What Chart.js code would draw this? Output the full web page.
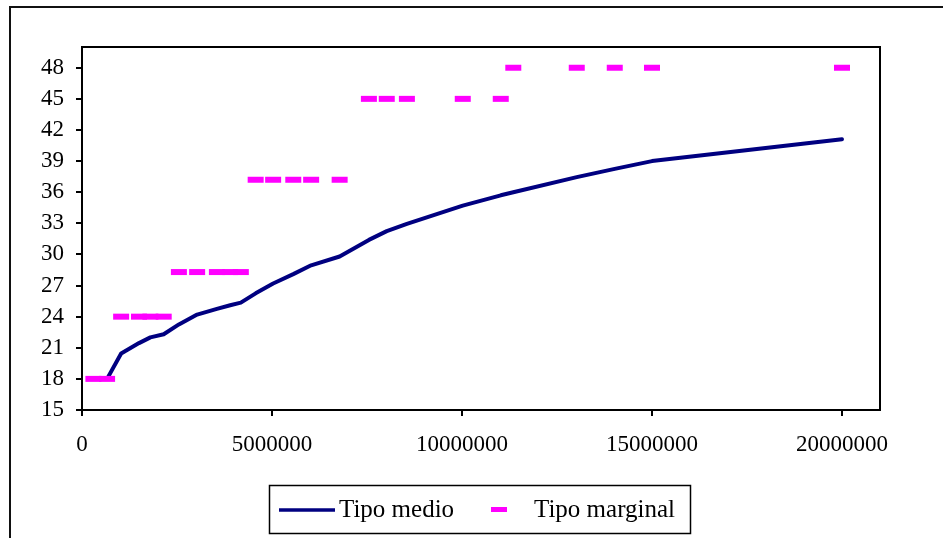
<!DOCTYPE html>
<html>
<head>
<meta charset="utf-8">
<script src="https://cdn.jsdelivr.net/npm/chart.js@4/dist/chart.umd.min.js"></script>
<style>
html,body{margin:0;padding:0;background:#fff;}
#wrap{width:943px;height:538px;position:relative;}
</style>
</head>
<body>
<div id="wrap"><canvas id="c" width="943" height="538"></canvas></div>
<script>
// Data
const renta = [300000, 660000, 1030000, 1500000, 1800000, 2150000, 2550000, 3030000, 3550000, 3900000, 4180000,
  4570000, 5030000, 5560000, 6030000, 6780000, 7550000, 8020000, 8550000, 10020000, 11020000,
  11350000, 13020000, 14020000, 15000000, 20000000];
const tipoMedio = [18, 18, 20.45, 21.45, 22.0, 22.3, 23.25, 24.2, 24.75, 25.1, 25.35,
  26.25, 27.2, 28.1, 28.95, 29.8, 31.4, 32.25, 32.95, 34.7, 35.7,
  36.0, 37.45, 38.25, 39.0, 41.1];
const tipoMarginal = [18, 18, 24, 24, 24, 24, 28.3, 28.3, 28.3, 28.3, 28.3,
  37.2, 37.2, 37.2, 37.2, 37.2, 45, 45, 45, 45, 45,
  48, 48, 48, 48, 48];
const xTickValues = [0, 5000000, 10000000, 15000000, 20000000];
const yTickValues = [15, 18, 21, 24, 27, 30, 33, 36, 39, 42, 45, 48];
const seriesNames = ['Tipo medio', 'Tipo marginal'];

const FONT = "'Liberation Serif', 'Times New Roman', serif";

const framePlugin = {
  id: 'frames',
  beforeDraw(chart) {
    const ctx = chart.ctx;
    ctx.save();
    ctx.fillStyle = '#fff';
    ctx.fillRect(0, 0, chart.width, chart.height);
    // outer chart border (runs off the right/bottom edges)
    ctx.strokeStyle = '#111';
    ctx.lineWidth = 2;
    ctx.beginPath();
    ctx.moveTo(10, chart.height + 2);
    ctx.lineTo(10, 7);
    ctx.lineTo(chart.width + 2, 7);
    ctx.stroke();
    ctx.restore();
  },
  afterDraw(chart) {
    const ctx = chart.ctx;
    const a = chart.chartArea;
    ctx.save();
    ctx.strokeStyle = '#000';
    ctx.lineWidth = 2;
    ctx.strokeRect(a.left, a.top, a.right - a.left, a.bottom - a.top);
    // legend
    const ds = chart.data.datasets;
    const med = ds.find(d => d.label === seriesNames[0]);
    const mar = ds.find(d => d.label === seriesNames[1]);
    ctx.lineWidth = 1.5;
    ctx.strokeStyle = '#000';
    ctx.strokeRect(269.5, 485.5, 421, 48);
    ctx.strokeStyle = med.borderColor;
    ctx.lineWidth = 3.5;
    ctx.beginPath();
    ctx.moveTo(279, 510);
    ctx.lineTo(335, 510);
    ctx.stroke();
    ctx.fillStyle = mar.pointBorderColor;
    ctx.fillRect(491, 507, 16, 5);
    ctx.fillStyle = '#000';
    ctx.font = "25px " + FONT;
    ctx.textBaseline = 'alphabetic';
    ctx.textAlign = 'left';
    ctx.fillText(med.label, 339, 517);
    ctx.fillText(mar.label, 534, 517);
    ctx.restore();
  }
};

const pts = (ys) => renta.map((x, i) => ({x: x, y: ys[i]}));

new Chart(document.getElementById('c'), {
  type: 'scatter',
  data: {
    datasets: [
      {
        label: seriesNames[0],
        data: pts(tipoMedio),
        showLine: true,
        borderColor: '#000080',
        borderWidth: 4,
        pointRadius: 0,
        borderJoinStyle: 'round',
        borderCapStyle: 'round',
        order: 1
      },
      {
        label: seriesNames[1],
        data: pts(tipoMarginal),
        showLine: false,
        pointStyle: 'line',
        pointRadius: 8,
        pointBorderWidth: 6,
        pointBorderColor: '#FF00FF',
        pointBackgroundColor: '#FF00FF',
        borderColor: '#FF00FF',
        order: 0
      }
    ]
  },
  options: {
    responsive: false,
    animation: false,
    events: [],
    layout: {padding: {left: 0, top: 47, right: 63, bottom: 0}},
    plugins: {legend: {display: false}, tooltip: {enabled: false}},
    scales: {
      x: {
        type: 'linear',
        min: 0,
        max: 21000000,
        afterBuildTicks: (s) => { s.ticks = xTickValues.map(v => ({value: v})); },
        afterFit: (s) => { s.height = 128; },
        border: {display: false},
        grid: {drawOnChartArea: false, drawTicks: true, tickLength: 6, color: '#000', lineWidth: 2},
        ticks: {
          color: '#000',
          font: {family: FONT, size: 23},
          padding: 15,
          maxRotation: 0,
          autoSkip: false,
          callback: (v) => String(v)
        }
      },
      y: {
        type: 'linear',
        min: 15,
        max: 50,
        afterBuildTicks: (s) => { s.ticks = yTickValues.map(v => ({value: v})); },
        afterFit: (s) => { s.width = 82; },
        border: {display: false},
        grid: {drawOnChartArea: false, drawTicks: true, tickLength: 6, color: '#000', lineWidth: 2},
        ticks: {
          color: '#000',
          font: {family: FONT, size: 23},
          padding: 12,
          autoSkip: false,
          callback: (v) => String(v)
        }
      }
    }
  },
  plugins: [framePlugin]
});
</script>
</body>
</html>
